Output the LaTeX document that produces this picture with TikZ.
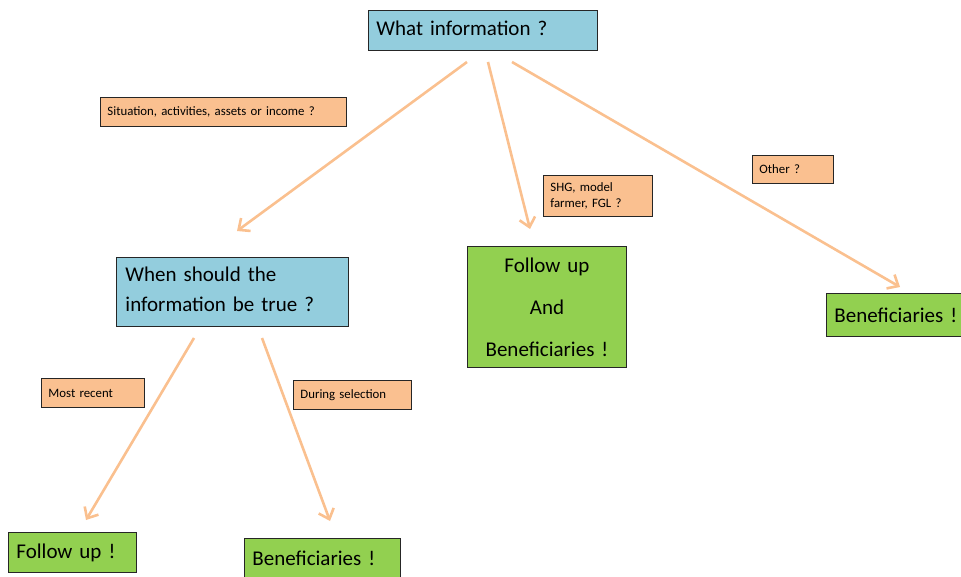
\documentclass[tikz,border=0pt]{standalone}
\usepackage{fontspec}
\setmainfont{Carlito}[WordSpace=0.7]
\usetikzlibrary{arrows.meta}
\definecolor{qblue}{HTML}{93CDDD}
\definecolor{qorange}{HTML}{FAC090}
\definecolor{qgreen}{HTML}{92D050}
\definecolor{qline}{HTML}{FAC08F}
\tikzset{
  base/.style={draw=black!85, line width=0.9pt, anchor=north west, inner xsep=8pt, inner ysep=0pt},
  bigq/.style={base, fill=qblue, font=\fontsize{21}{30}\selectfont, align=left},
  tag/.style={base, fill=qorange, font=\fontsize{12.8}{16}\selectfont, align=left, inner xsep=7pt},
  res/.style={base, fill=qgreen, font=\fontsize{21}{24}\selectfont, align=left},
  link/.style={draw=qline, line width=2.6pt, -{Straight Barb[length=9pt,width=16pt,line width=2.6pt]}},
}
\begin{document}
\begin{tikzpicture}[x=1pt,y=-1pt]
\useasboundingbox (0,0) rectangle (961,577);
% main question
\node[bigq, minimum width=229pt, minimum height=40pt, text width=213pt] (what) at (368,10) {What information ?\vspace*{4pt}};
% tags
\node[tag, minimum width=246pt, minimum height=29pt, text width=232pt] (sit) at (100,97) {Situation, activities, assets or income ?};
\node[tag, minimum width=109pt, minimum height=41pt, text width=95pt] (shg) at (543,175) {SHG, model\\farmer, FGL ?};
\node[tag, minimum width=81pt, minimum height=28pt, text width=67pt] (oth) at (752,155) {Other ?};
\node[tag, minimum width=103pt, minimum height=29pt, text width=89pt] (rec) at (41,378) {Most recent};
\node[tag, minimum width=118pt, minimum height=29pt, text width=104pt] (dur) at (293,380) {During selection};
% second question
\node[bigq, minimum width=230pt, minimum height=69pt, text width=214pt, inner xsep=9pt] (when) at (116,257) {When should the\\information be true ?\vspace*{5pt}};
% results
\node[res, minimum width=159pt, minimum height=121pt, text width=143pt, align=center, font=\fontsize{21}{42}\selectfont] (fab) at (467,246) {Follow up\\And\\Beneficiaries !};
\node[res, minimum width=140pt, minimum height=43pt, text width=124pt] (ben1) at (826,293) {Beneficiaries !};
\node[res, minimum width=128pt, minimum height=40pt, text width=112pt] (fol) at (8,532) {Follow up !};
\node[res, minimum width=156pt, minimum height=45pt, text width=140pt] (ben2) at (244,538) {Beneficiaries !\vspace*{6pt}};
% arrow end points
\coordinate (a1s) at (467,62);  \coordinate (a1e) at (237,231);
\coordinate (a2s) at (488,62);  \coordinate (a2e) at (530,229);
\coordinate (a3s) at (512,62);  \coordinate (a3e) at (900,287);
\coordinate (a4s) at (194,338); \coordinate (a4e) at (86,520);
\coordinate (a5s) at (262,338); \coordinate (a5e) at (330,521);
\draw[link] (a1s) -- (a1e);
\draw[link] (a2s) -- (a2e);
\draw[link] (a3s) -- (a3e);
\draw[link] (a4s) -- (a4e);
\draw[link] (a5s) -- (a5e);
\end{tikzpicture}
\end{document}
